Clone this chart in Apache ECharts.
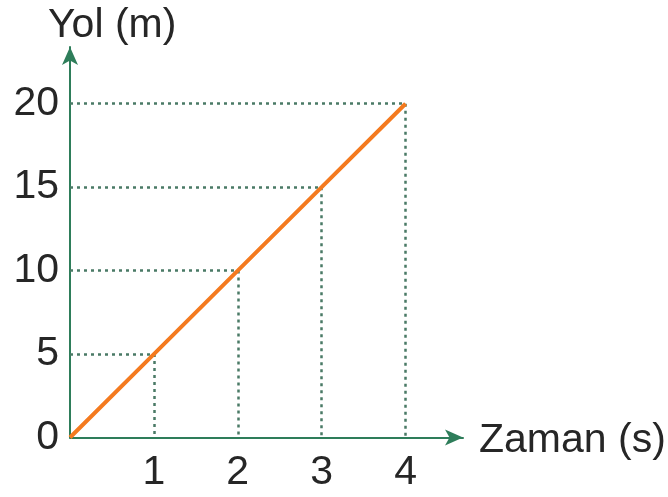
<!DOCTYPE html>
<html><head><meta charset="utf-8">
<script src="https://cdn.jsdelivr.net/npm/echarts@6/dist/echarts.min.js"></script>
<style>html,body{margin:0;padding:0;background:#fff}#c{width:668px;height:497px}</style>
</head><body><div id="c"></div>
<script>
const times = [0, 1, 2, 3, 4];
const distances = [0, 5, 10, 15, 20];
const xName = 'Zaman (s)';
const yName = 'Yol (m)';

const axisColor = '#2e7d5a';
const guideColor = '#4a7a66';
const font = 'Liberation Sans, Arial, Helvetica, sans-serif';

const guides = [];
for (let i = 1; i < times.length; i++) {
  guides.push([{coord: [0, distances[i]]}, {coord: [times[i], distances[i]]}]);
  guides.push([{coord: [times[i], distances[i]]}, {coord: [times[i], 0]}]);
}

const chart = echarts.init(document.getElementById('c'), null, {renderer: 'canvas'});
chart.setOption({
  animation: false,
  backgroundColor: '#fff',
  grid: {left: 70, right: 205, top: 47, bottom: 59.5, containLabel: false},
  title: [
    {text: yName, left: 43, top: 0, textStyle: {fontFamily: font, fontSize: 41, fontWeight: 'normal', color: '#262626'}},
    {text: xName, left: 474, top: 415, textStyle: {fontFamily: font, fontSize: 41, fontWeight: 'normal', color: '#262626'}}
  ],
  xAxis: {
    type: 'value', min: 0, max: 4.685, interval: 1,
    axisLine: {show: true, onZero: false, lineStyle: {color: axisColor, width: 2}, symbol: ['none', 'arrow'], symbolSize: [12, 18]},
    axisTick: {show: false},
    splitLine: {show: false},
    axisLabel: {showMinLabel: false, showMaxLabel: false, margin: 15, fontFamily: font, fontSize: 41, color: '#262626'}
  },
  yAxis: {
    type: 'value', min: 0, max: 23.4, interval: 5,
    axisLine: {show: true, onZero: false, lineStyle: {color: axisColor, width: 2}, symbol: ['none', 'arrow'], symbolSize: [12, 18]},
    axisTick: {show: false},
    splitLine: {show: false},
    axisLabel: {showMaxLabel: false, margin: 11, fontFamily: font, fontSize: 41, color: '#262626', padding: [14, 0, 0, 0]}
  },
  series: [{
    type: 'line',
    data: times.map((t, i) => [t, distances[i]]),
    symbol: 'none',
    lineStyle: {color: '#f47a1f', width: 4},
    z: 5,
    markLine: {
      silent: true,
      symbol: ['none', 'none'],
      label: {show: false},
      lineStyle: {color: guideColor, width: 2.5, type: [3, 4]},
      data: guides,
      z: 2
    }
  }]
});
</script></body></html>
